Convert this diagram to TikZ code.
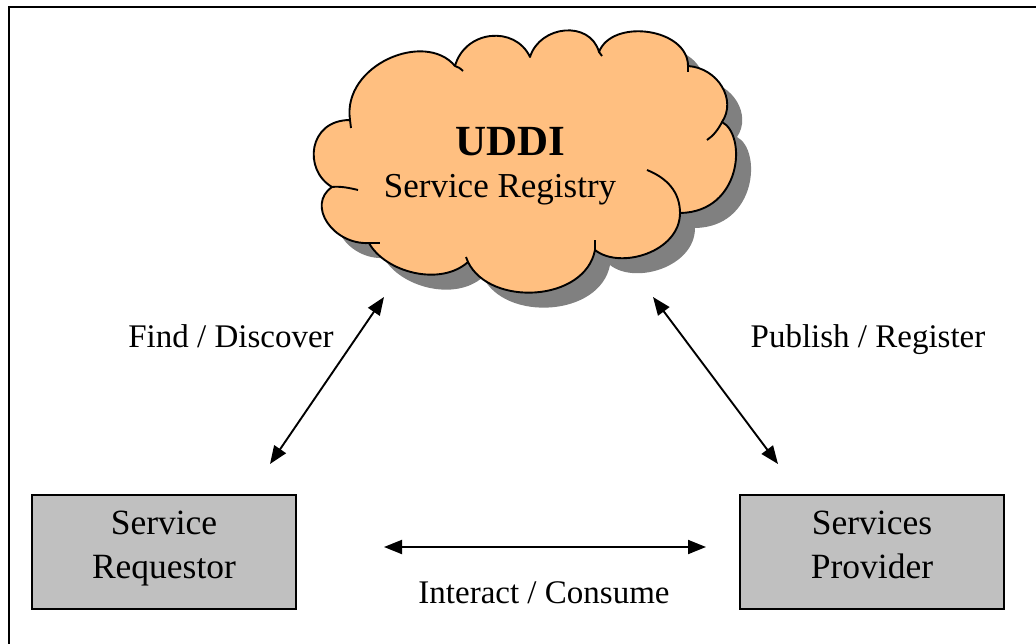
\documentclass[tikz,border=0pt]{standalone}
\usepackage{fontspec}
\setmainfont{Liberation Serif}
\usetikzlibrary{arrows.meta}

\definecolor{cloudfill}{HTML}{FFBF80}
\definecolor{cloudshadow}{HTML}{808080}
\definecolor{boxfill}{HTML}{C0C0C0}

% outline of the registry cloud (units are pixels, y pointing down)
\def\cloudoutline{
  (350,120) .. controls (342,65) and (425,30) .. (455,66)
  .. controls (465,30) and (515,25) .. (530,57)
  .. controls (540,25) and (590,20) .. (599,52)
  .. controls (612,18) and (688,28) .. (688,66)
  .. controls (718,68) and (737,100) .. (722,122)
  .. controls (747,135) and (742,212) .. (680,213)
  .. controls (680,252) and (620,270) .. (595,250)
  .. controls (585,302) and (490,307) .. (468,262)
  .. controls (440,287) and (385,272) .. (369,243)
  .. controls (333,245) and (306,205) .. (332,187)
  .. controls (303,170) and (308,120) .. (350,120) -- cycle}

\begin{document}
\begin{tikzpicture}[x=1pt,y=-1pt,
  frame/.style={line width=2.4pt},
  cloudline/.style={line width=1.9pt, line join=round},
  procbox/.style={draw, line width=2.4pt, fill=boxfill, minimum width=264pt, minimum height=114pt,
    inner sep=0pt, align=center, font=\fontsize{35.5}{44}\selectfont, text height=60pt, text depth=8pt},
  lbl/.style={anchor=base, inner sep=0pt, font=\fontsize{33}{40}\selectfont},
  link/.style={line width=1.9pt, {Triangle[length=18pt,width=14pt]}-{Triangle[length=18pt,width=14pt]}}]
\useasboundingbox (0,0) rectangle (1036,643);

% page frame
\draw[frame] (9,700) -- (9,7) -- (1100,7);

% registry cloud: shadow, body, inner folds
\fill[cloudshadow, shift={(15,15)}] \cloudoutline;
\filldraw[cloudline, fill=cloudfill] \cloudoutline;
\draw[cloudline] (350,120) -- (351,128);
\draw[cloudline] (455,66) .. controls (458,67) and (460,68) .. (463,71);
\draw[cloudline] (599,52) -- (602,56);
\draw[cloudline] (688,66) -- (688,72);
\draw[cloudline] (722,122) .. controls (718,130) and (713,136) .. (707,140);
\draw[cloudline] (680,213) .. controls (680,192) and (667,178) .. (647,170);
\draw[cloudline] (595,250) -- (595,240);
\draw[cloudline] (468,262) -- (466,257);
\draw[cloudline] (369,243) -- (380,243);
\draw[cloudline] (332,187) .. controls (340,186) and (350,188) .. (358,190);

\node[anchor=base, inner sep=0pt, font=\fontsize{43}{50}\selectfont\bfseries] (uddi) at (510,155) {UDDI};
\node[anchor=base, inner sep=0pt, font=\fontsize{35}{42}\selectfont] (registry) at (500,197) {Service Registry};

% participants
\node[procbox] (requestor) at (164,552) {Service\\Requestor};
\node[procbox] (provider) at (872,552) {Services\\Provider};

% connector end points
\coordinate (findtop) at (384,297);
\coordinate (findbottom) at (270,464);
\coordinate (pubtop) at (653,297);
\coordinate (pubbottom) at (778,464);
\coordinate (useleft) at (384,547);
\coordinate (useright) at (706,547);

\draw[link] (findbottom) -- (findtop);
\draw[link] (pubtop) -- (pubbottom);
\draw[link] (useleft) -- (useright);

% connector labels
\node[lbl] (findlabel) at (231,347) {Find / Discover};
\node[lbl] (publabel) at (868,347) {Publish / Register};
\node[lbl] (uselabel) at (544,603) {Interact / Consume};
\end{tikzpicture}
\end{document}
